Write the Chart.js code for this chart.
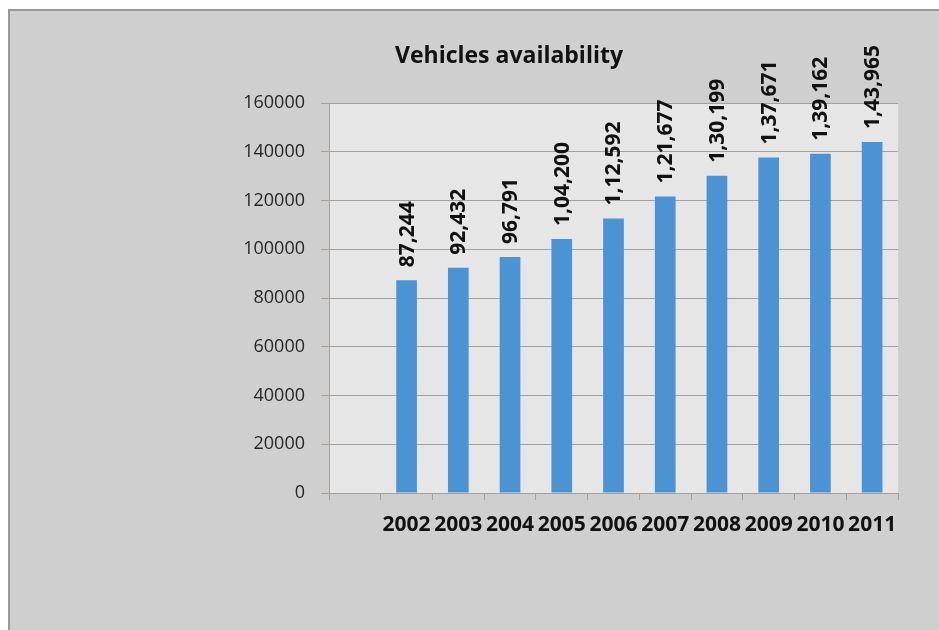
<!DOCTYPE html>
<html><head><meta charset="utf-8">
<script src="https://cdn.jsdelivr.net/npm/chart.js@4/dist/chart.umd.min.js"></script>
<style>html,body{margin:0;padding:0;background:#fff}#wrap{width:939px;height:630px;position:relative}</style>
</head><body><div id="wrap"><canvas id="c"></canvas></div>
<script>
const categories = ["", "2002", "2003", "2004", "2005", "2006", "2007", "2008", "2009", "2010", "2011"];
const vehicles = [null, 87244, 92432, 96791, 104200, 112592, 121677, 130199, 137671, 139162, 143965];
const yMin = 0, yMax = 160000, yStep = 20000;
const titleText = "Vehicles availability";

function indianFormat(n) {
  const s = String(Math.round(n));
  if (s.length <= 3) return s;
  const last3 = s.slice(-3);
  let rest = s.slice(0, -3);
  const parts = [];
  while (rest.length > 2) { parts.unshift(rest.slice(-2)); rest = rest.slice(0, -2); }
  if (rest.length) parts.unshift(rest);
  return parts.join(",") + "," + last3;
}

const FONT = "'Open Sans', 'Liberation Sans', sans-serif";
const gridColor = "#a69f99";

const bgPlugin = {
  id: "bg",
  beforeDraw(chart) {
    const ctx = chart.ctx, a = chart.chartArea;
    ctx.save();
    ctx.fillStyle = "#ffffff";
    ctx.fillRect(0, 0, chart.width, chart.height);
    ctx.fillStyle = "#cfcfcf";
    ctx.fillRect(9, 10, chart.width - 9, chart.height - 10);
    ctx.strokeStyle = "#9b9797";
    ctx.lineWidth = 2;
    ctx.beginPath();
    ctx.moveTo(9, chart.height); ctx.lineTo(9, 10); ctx.lineTo(chart.width, 10);
    ctx.stroke();
    ctx.fillStyle = "#e6e6e6";
    ctx.fillRect(a.left, a.top, a.right - a.left, a.bottom - a.top);
    ctx.restore();
  }
};

const labelPlugin = {
  id: "vlabels",
  afterDatasetsDraw(chart) {
    const ctx = chart.ctx;
    const meta = chart.getDatasetMeta(0);
    const data = chart.data.datasets[0].data;
    ctx.save();
    ctx.font = "bold 21px " + FONT;
    ctx.fillStyle = "#111111";
    ctx.textAlign = "left";
    ctx.textBaseline = "middle";
    meta.data.forEach((el, i) => {
      if (data[i] == null) return;
      ctx.save();
      ctx.translate(el.x + 1, el.y - 13);
      ctx.rotate(-Math.PI / 2);
      ctx.fillText(indianFormat(data[i]), 0, 0);
      ctx.restore();
    });
    ctx.restore();
  }
};

new Chart(document.getElementById("c"), {
  type: "bar",
  data: {
    labels: categories,
    datasets: [{
      data: vehicles,
      backgroundColor: "#4b93d3",
      borderWidth: 0,
      categoryPercentage: 1,
      barPercentage: 0.4
    }]
  },
  options: {
    responsive: true,
    maintainAspectRatio: false,
    animation: false,
    layout: { padding: { left: 120, right: 41, top: 0, bottom: 0 } },
    plugins: {
      legend: { display: false },
      tooltip: { enabled: false },
      title: {
        display: true,
        text: titleText,
        color: "#111111",
        font: { family: FONT, size: 23, weight: "bold" },
        padding: { top: 43, bottom: 32.4 }
      }
    },
    scales: {
      x: {
        afterFit(scale) { scale.height = 137; },
        grid: { offset: true, drawOnChartArea: false, drawTicks: true, tickLength: 7, color: gridColor },
        border: { color: gridColor },
        ticks: { color: "#111111", font: { family: FONT, size: 21, weight: "bold" }, padding: 12, maxRotation: 0, autoSkip: false }
      },
      y: {
        min: yMin, max: yMax,
        afterFit(scale) { scale.width = 209; },
        grid: { color: gridColor, tickLength: 8 },
        border: { color: gridColor },
        ticks: { stepSize: yStep, color: "#262626", font: { family: FONT, size: 18 }, padding: 16,
                 callback: (v) => String(v) }
      }
    }
  },
  plugins: [bgPlugin, labelPlugin]
});
</script>
</body></html>
